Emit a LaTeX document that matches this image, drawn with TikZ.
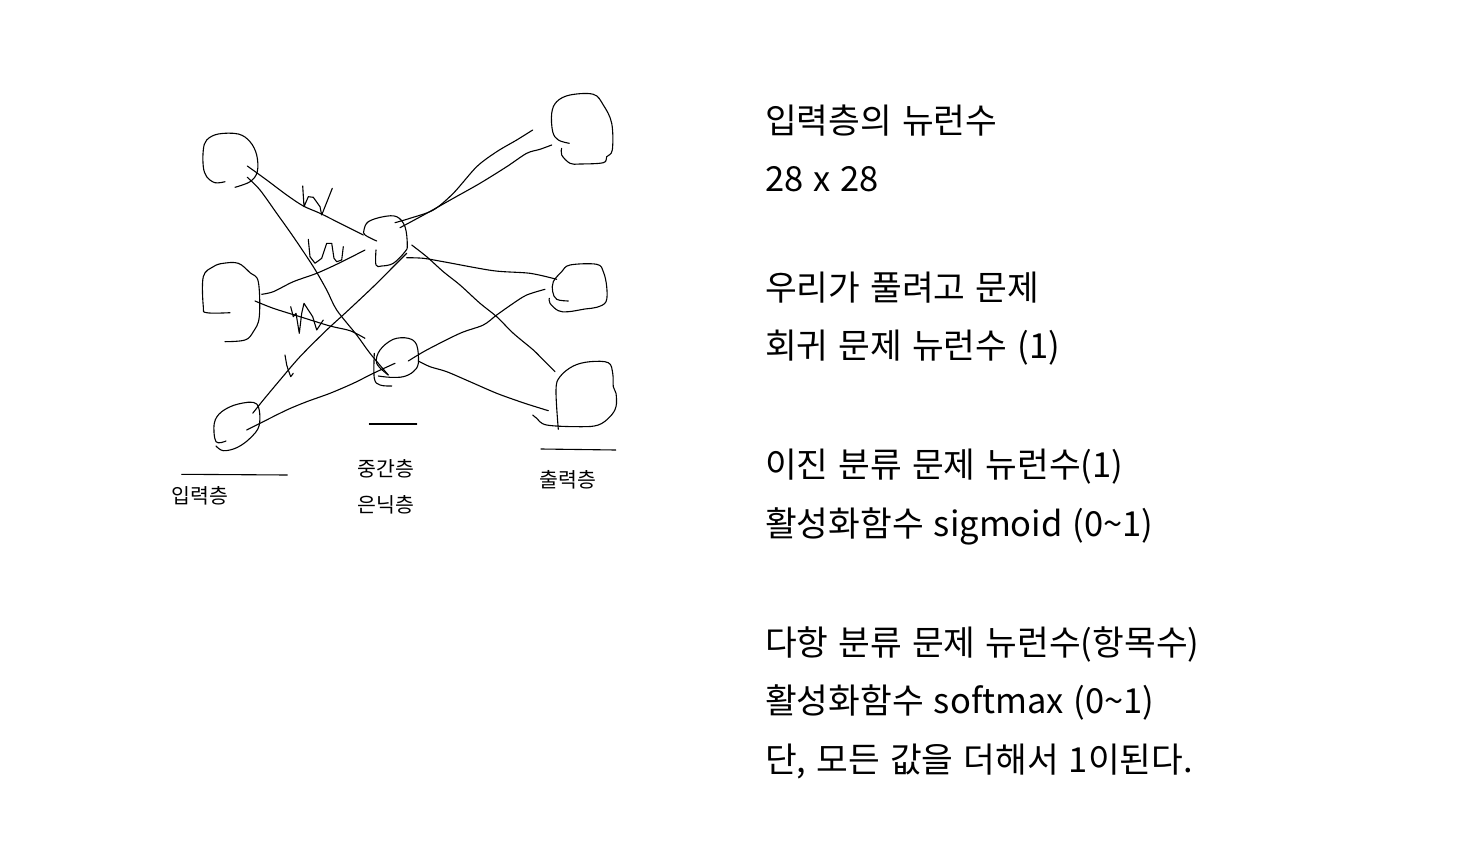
\documentclass[tikz,border=0pt]{standalone}
\usepackage{fontspec}
\setmainfont[WordSpace=1.3]{Noto Sans CJK KR}
\usetikzlibrary{positioning}
\tikzset{
  pen/.style={line width=1.1pt, draw=black, line cap=round,
    line join=round},
  layerlabel/.style={font=\fontsize{20.5}{24}\selectfont, inner sep=0pt},
  notetext/.style={font=\fontsize{34.5}{40}\selectfont, anchor=base west,
    inner sep=0pt}
}

\begin{document}
\begin{tikzpicture}[x=1pt, y=-1pt]
  \useasboundingbox[fill=white] (0,0) rectangle (1478,843);

  % neurons, drawn by hand
  \draw[pen] plot[smooth, tension=0.6] coordinates {(225,181.7) (215,182.7)
    (206.7,176.7) (203.3,166.7) (203.3,150) (206.7,140) (218.3,134)
    (238.3,134) (250,141.7) (256.7,155) (257.3,171.7) (250,181.7)
    (235,187.3)};
  \draw[pen] plot[smooth, tension=0.6] coordinates {(230,312.7) (206.7,312.7)
    (203.3,306.7) (203.3,276.7) (213.3,266.7) (223.3,263.3) (238.3,263.3)
    (250,272.7) (258.3,281.7) (259.3,316.7) (253.3,331.7) (245,340)
    (225,341.7)};
  \draw[pen] plot[smooth, tension=0.6] coordinates {(226,441) (216,441.7)
    (214.3,423.3) (221.7,411.7) (238.3,404) (256.7,404) (259.3,425)
    (250,438.3) (236.7,447.7) (223.3,450.7) (216,446)};
  \draw[pen] plot[smooth, tension=0.6] coordinates {(376.7,241) (365,235)
    (364,230) (368.3,221.7) (383.3,216.7) (396.7,216.7) (405,226.7)
    (407.3,245) (405,251.7) (393.3,263.3) (381.7,266) (376,265) (376,250)};
  \draw[pen] plot[smooth, tension=0.6] coordinates {(388.3,375) (376.7,363.3)
    (380,350) (393.3,339.3) (408.3,338.3) (416.7,345) (418.3,363.3)
    (413.3,371.7) (403.3,376.7) (390,377.3) (378.3,376)};
  \draw[pen] plot[smooth, tension=0.6] coordinates {(374.3,353.3)
    (374.3,378.3) (380,385) (391.7,386)};
  \draw[pen] plot[smooth, tension=0.6] coordinates {(569.3,143.3) (558.3,140)
    (552.7,131.7) (551.7,113.3) (556.7,101.7) (570,95) (593.3,94.3)
    (603.3,105) (611.7,123.3) (612.3,150) (606.7,156.7) (603.3,162.7)
    (580,164) (570,163.3) (561.7,155) (561.7,148.3)};
  \draw[pen] plot[smooth, tension=0.6] coordinates {(568.3,301) (556.7,299.3)
    (552.7,291.7) (553.3,281.7) (561.7,271.7) (570,265) (596.7,264.3)
    (603.3,271.7) (606.7,286.7) (606,301.7) (596.7,307.3) (585,309)
    (568.3,311.7) (558.3,310.7) (550,303.3) (549.3,298.3)};
  \draw[pen] plot[smooth, tension=0.6] coordinates {(558.3,429.3) (556,390)
    (560,376.7) (573.3,366) (590,361.7) (608.3,362.7) (612.7,373.3)
    (613.3,386.7) (616,393.3) (616,406.7) (610,416.7) (598.3,425)
    (580,426.7) (546.7,425) (536.7,418.3) (532.7,415)};

  % weights, input to hidden
  \draw[pen] plot[smooth] coordinates {(247.3,166) (266.7,180) (286.7,195)
    (303.3,206) (320,213.3) (340,223.3) (363.3,235)};
  \draw[pen] plot[smooth] coordinates {(247.3,177.3) (260,190) (276.7,213.3)
    (293.3,236.7) (313.3,266.7) (326.7,290) (336.7,310) (356.7,335)
    (370,353.3) (388.3,375)};
  \draw[pen] plot[smooth] coordinates {(261.7,294.3) (273.3,291.7)
    (293.3,281.7) (316.7,273.3) (340,262.7) (365,250)};
  \draw[pen] plot[smooth] coordinates {(255,301) (273.3,308.3) (300,316.7)
    (330,326) (350,330.7) (365,338.3)};
  \draw[pen] plot[smooth] coordinates {(252.7,413.3) (263.3,400) (280,380)
    (300,356.7) (326.7,330) (346.7,311.7) (373.3,286.7) (393.3,266.7)
    (406.7,253.3)};
  \draw[pen] plot[smooth] coordinates {(246.7,430) (260,423.3) (286.7,410)
    (306.7,401.7) (330,393.3) (353.3,383.3) (373.3,373.3) (395,363.3)};

  % weights, hidden to output
  \draw[pen] plot[smooth] coordinates {(395,222.7) (410,218.3) (433.3,210)
    (453.3,193.3) (476.7,166.7) (496.7,151.7) (516.7,140) (532.7,130)};
  \draw[pen] plot[smooth] coordinates {(400,227.7) (426.7,213.3)
    (453.3,198.3) (480,183.3) (506.7,166.7) (526.7,153.3) (540,149.3)
    (551.7,145)};
  \draw[pen] plot[smooth] coordinates {(406.7,257.7) (423.3,258.3)
    (443.3,261.7) (493.3,270.7) (530,273.3) (556.7,279.3)};
  \draw[pen] plot[smooth] coordinates {(411.7,245) (426.7,256.7)
    (443.3,271.7) (460,285) (480,303.3) (496.7,316.7) (513.3,333.3)
    (533.3,350) (543.3,360) (555,371.7)};
  \draw[pen] plot[smooth] coordinates {(408.3,361) (426.7,350) (460,333.3)
    (483.3,325) (496.7,315) (513.3,303.3) (526.7,295) (545,289.3)};
  \draw[pen] plot[smooth] coordinates {(418.3,361) (430,366.7) (446.7,371.7)
    (470,381.7) (496.7,393.3) (520,401.7) (530,405) (548.3,410.7)};

  % w marks
  \draw[pen] (302.7,186) -- (304,206.7) -- (308.3,196.7) -- (313.3,197.3)
    -- (320,206.7) -- (321.7,215) -- (325,206.7) -- (332.3,188.3);
  \draw[pen] (308.3,239.3) -- (310,256.7) -- (315,263.3) -- (321.7,258.3)
    -- (326.7,243.3) -- (331.7,243.3) -- (334,258.3) -- (336.7,261.7)
    -- (341.7,260) -- (343.3,246.7);
  \draw[pen] (290.7,306.7) -- (293.3,316.7) -- (296,313.3) -- (299.3,333.3)
    -- (301.7,313.3) -- (304,303.3) -- (308.3,310) -- (312.7,316.7)
    -- (316.7,330) -- (323.3,320);
  \draw[pen] (285,355) -- (286.7,365) -- (288.3,370) -- (290.7,376.7)
    -- (293.3,373.3);

  % layer labels
  \coordinate (inbar) at (181.7,474.3);
  \coordinate (hidbar) at (369.3,424);
  \coordinate (outbar) at (541,449);
  \draw[pen] (inbar) -- (287.3,475);
  \draw[pen] (hidbar) -- (416.7,424);
  \draw[pen] (outbar) -- (615.7,450);
  \node[layerlabel] (inlabel) at (200,496) {입력층};
  \node[layerlabel] (midlabel) at (386,469) {중간층};
  \node[layerlabel] (hidlabel) at (386,505) {은닉층};
  \node[layerlabel] (outlabel) at (568,480) {출력층};

  % notes
  \node[notetext] (n1) at (765,133) {입력층의 뉴런수};
  \node[notetext] (n2) at (765,191) {28 x 28};
  \node[notetext] (n3) at (765,300) {우리가 풀려고 문제};
  \node[notetext] (n4) at (765,358) {회귀 문제 뉴런수 (1)};
  \node[notetext] (n5) at (765,477) {이진 분류 문제 뉴런수(1)};
  \node[notetext] (n6) at (765,536) {활성화함수 sigmoid (0\textasciitilde1)};
  \node[notetext] (n7) at (765,655) {다항 분류 문제 뉴런수(항목수)};
  \node[notetext] (n8) at (765,713) {활성화함수 softmax (0\textasciitilde1)};
  \node[notetext] (n9) at (765,772) {단, 모든 값을 더해서 1이된다.};
\end{tikzpicture}
\end{document}
